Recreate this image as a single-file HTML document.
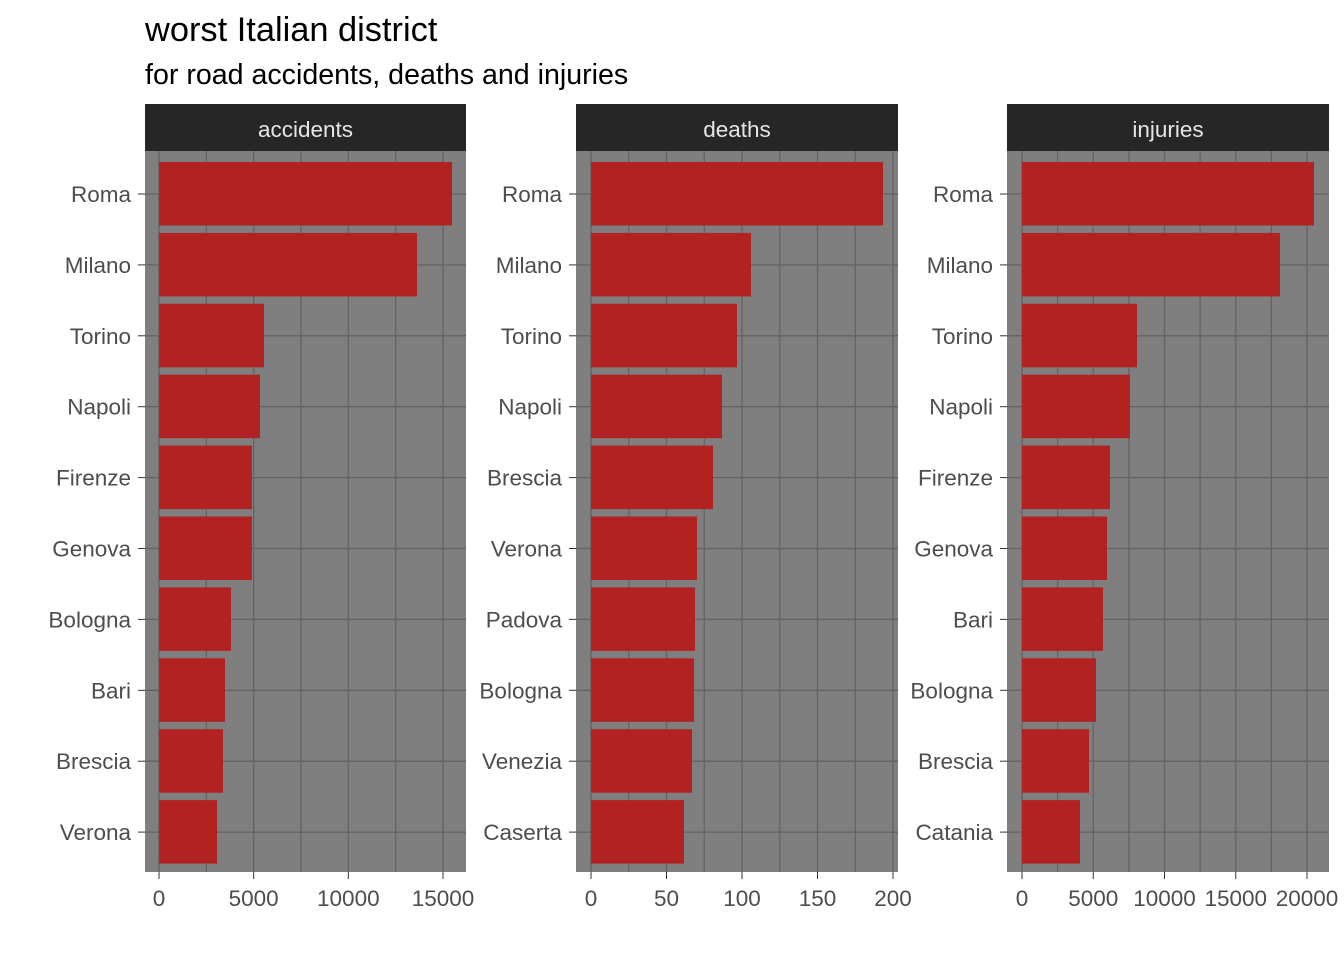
<!DOCTYPE html><html><head><meta charset="utf-8"><style>body{margin:0;background:#fff}svg{display:block}text{font-family:"Liberation Sans",sans-serif}</style></head><body>
<svg width="1344" height="960" viewBox="0 0 1344 960">
<text x="145" y="41" font-size="34.4" fill="#000">worst Italian district</text>
<text x="145" y="84" font-size="28.6" fill="#000">for road accidents, deaths and injuries</text>
<g id="p"></g>
</svg>
<script>
const panels=[
{x0:145,x1:466,zero:159,scale:(443-159)/15000,title:"accidents",ticks:[0,5000,10000,15000],minor:2500,names:["Roma","Milano","Torino","Napoli","Firenze","Genova","Bologna","Bari","Brescia","Verona"],ends:[452,417,264,260,252,252,231,225,223,217]},
{x0:576,x1:898,zero:591,scale:(893-591)/200,title:"deaths",ticks:[0,50,100,150,200],minor:25,names:["Roma","Milano","Torino","Napoli","Brescia","Verona","Padova","Bologna","Venezia","Caserta"],ends:[883,751,737,722,713,697,695,694,692,684]},
{x0:1007,x1:1329,zero:1022,scale:(1307-1022)/20000,title:"injuries",ticks:[0,5000,10000,15000,20000],minor:2500,names:["Roma","Milano","Torino","Napoli","Firenze","Genova","Bari","Bologna","Brescia","Catania"],ends:[1314,1280,1137,1130,1110,1107,1103,1096,1089,1080]}];
let s="";
for(const p of panels){
 s+=`<rect x="${p.x0}" y="104" width="${p.x1-p.x0}" height="47" fill="#262626"/>`;
 s+=`<text x="${(p.x0+p.x1)/2}" y="137" font-size="22.5" fill="#e6e6e6" text-anchor="middle">${p.title}</text>`;
 s+=`<rect x="${p.x0}" y="151" width="${p.x1-p.x0}" height="721" fill="#7f7f7f"/>`;
 for(let v=0;;v+=p.minor){const x=p.zero+v*p.scale;if(x>p.x1)break;s+=`<line x1="${x}" x2="${x}" y1="151" y2="872" stroke="#636363" stroke-width="1.3"/>`;}
 for(let i=0;i<10;i++){const y=194+i*70.9;s+=`<line x1="${p.x0}" x2="${p.x1}" y1="${y}" y2="${y}" stroke="#636363" stroke-width="1.3"/>`;
  s+=`<rect x="${p.zero}" y="${y-32}" width="${p.ends[i]-p.zero}" height="63.5" fill="#b22222"/>`;
  s+=`<line x1="${p.x0-7}" x2="${p.x0}" y1="${y}" y2="${y}" stroke="#333"/>`;
  s+=`<text x="${p.x0-14}" y="${y+8}" font-size="22.5" fill="#4d4d4d" text-anchor="end">${p.names[i]}</text>`;}
 for(const t of p.ticks){const x=p.zero+t*p.scale;s+=`<line x1="${x}" x2="${x}" y1="872" y2="879" stroke="#333"/><text x="${x}" y="906" font-size="22.5" fill="#4d4d4d" text-anchor="middle">${t}</text>`;}
}
document.getElementById("p").innerHTML=s;
</script>
</body></html>
